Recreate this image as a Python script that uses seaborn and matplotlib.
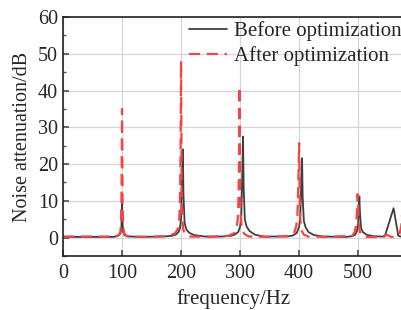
import matplotlib
matplotlib.use("Agg")
import matplotlib.pyplot as plt
from matplotlib.ticker import MultipleLocator
import seaborn as sns
import pandas as pd

# Before optimization (frequency in Hz, attenuation in dB)
freq_before = [0, 85, 92, 96, 98, 99, 100, 101, 102, 104, 108, 115, 130,
               170, 185, 192, 196, 198, 200, 201, 202, 203, 204, 206, 209, 214, 222, 240,
               270, 285, 292, 297, 300, 302, 303, 304, 305, 306, 308, 311, 316, 325, 340,
               380, 390, 396, 400, 402, 403, 404, 405, 406, 408, 411, 416, 425, 440,
               480, 490, 495, 498, 500, 501, 502, 503, 505, 508, 514, 525, 538,
               545, 560, 568, 572, 577]
att_before = [0.2, 0.2, 0.4, 0.8, 1.5, 3.0, 10.0, 3.5, 1.5, 0.7, 0.4, 0.3, 0.2,
              0.3, 0.5, 0.9, 1.6, 2.5, 5.0, 12.0, 16.0, 24.0, 12.0, 4.0, 2.2, 1.3, 0.7, 0.3,
              0.3, 0.5, 0.9, 1.6, 3.0, 6.0, 12.0, 20.0, 27.5, 14.0, 5.0, 3.0, 1.8, 0.8, 0.3,
              0.3, 0.6, 1.3, 3.0, 6.0, 11.0, 18.0, 21.6, 11.0, 4.5, 2.8, 1.5, 0.7, 0.3,
              0.2, 0.4, 0.8, 1.8, 4.0, 8.0, 11.2, 7.0, 2.5, 1.5, 0.8, 0.4, 0.3,
              0.3, 8.0, 0.5, 0.3, 0.3]

# After optimization
freq_after = [0, 90, 95, 97, 98, 99, 100, 101, 102, 104, 110, 150,
              180, 190, 195, 197, 198, 199, 200, 201, 202, 204, 208, 215, 250,
              280, 290, 294, 296, 297, 298, 299, 300, 301, 303, 307, 315, 350,
              385, 392, 395, 397, 398, 399, 400, 401, 402, 404, 408, 415, 450,
              490, 494, 496, 498, 499, 500, 501, 503, 507, 515, 540, 548, 556,
              565, 570, 573, 575, 577]
att_after = [0.3, 0.3, 0.8, 1.5, 3.0, 10.0, 35.0, 8.0, 3.0, 1.0, 0.3, 0.2,
             0.5, 1.2, 2.5, 5.0, 9.0, 20.0, 48.0, 12.0, 5.0, 2.0, 0.8, 0.3, 0.2,
             0.5, 1.2, 2.5, 5.0, 9.0, 18.0, 41.0, 14.0, 6.0, 2.5, 1.0, 0.3, 0.2,
             0.5, 1.5, 3.0, 6.0, 10.0, 18.0, 25.7, 10.0, 5.0, 2.0, 0.8, 0.3, 0.2,
             0.5, 1.5, 3.0, 7.0, 11.8, 9.0, 4.0, 1.5, 0.5, 0.2, 0.1, 0.8, 0.2,
             0.3, 1.0, 3.0, 8.0, 16.0]

labels = ["Before optimization", "After optimization"]
x_ticks = [0, 100, 200, 300, 400, 500]
y_ticks = [0, 10, 20, 30, 40, 50, 60]

df = pd.concat([
    pd.DataFrame({"f": freq_before, "a": att_before, "s": labels[0]}),
    pd.DataFrame({"f": freq_after, "a": att_after, "s": labels[1]}),
])

sns.set_theme(style="ticks")
plt.rcParams["font.family"] = ["Liberation Serif", "DejaVu Serif"]

fig = plt.figure(figsize=(4.02, 3.10), dpi=100)
ax = fig.add_axes([63 / 402, 54 / 310, 1 - 63 / 402 + 0.004, (256 - 17) / 310])

ax.grid(True, color="#d6d6d6", linewidth=0.9)
ax.set_axisbelow(True)

sns.lineplot(data=df, x="f", y="a", hue="s", style="s",
             palette={labels[0]: "#3f3f3f", labels[1]: "#f24646"},
             dashes={labels[0]: "", labels[1]: (5, 3)},
             hue_order=labels, style_order=labels,
             ax=ax, estimator=None, sort=False)
for line, lw in zip(ax.get_lines(), [1.3, 1.6]):
    line.set_linewidth(lw)

ax.set_xlim(0, 577)
ax.set_ylim(-5, 60)
ax.set_xticks(x_ticks)
ax.set_yticks(y_ticks)
ax.yaxis.set_minor_locator(MultipleLocator(5))
ax.tick_params(axis="both", which="both", direction="in", labelsize=14.5,
               color="#555555")
ax.tick_params(axis="both", which="major", length=4)
ax.tick_params(axis="y", which="minor", length=2.5)
ax.tick_params(axis="x", pad=6)

for sp in ["left", "bottom", "top", "right"]:
    ax.spines[sp].set_color("#222222")
    ax.spines[sp].set_linewidth(1.2)

ax.set_xlabel("frequency/Hz", fontsize=15, labelpad=4)
ax.set_ylabel("Noise attenuation/dB", fontsize=14.5, labelpad=4)

handles, lbls = ax.get_legend_handles_labels()
leg = ax.legend(handles, lbls, loc="upper right", bbox_to_anchor=(1.025, 1.025),
                frameon=False, fontsize=15, handlelength=1.8,
                handletextpad=0.35, labelspacing=0.25, borderaxespad=0.1)
for h, lw in zip(leg.get_lines(), [1.3, 1.6]):
    h.set_linewidth(lw)

fig.savefig("out.png", dpi=100)
